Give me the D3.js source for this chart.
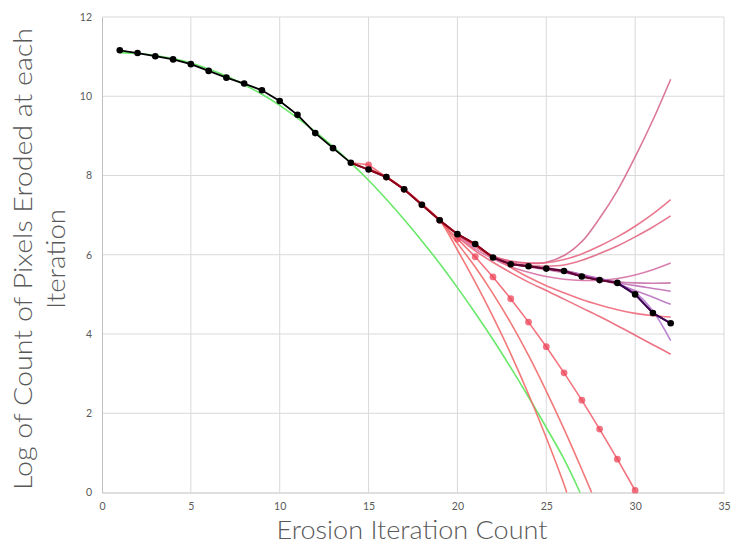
<!DOCTYPE html>
<html>
<head>
<meta charset="utf-8">
<script src="https://cdn.jsdelivr.net/npm/d3@7"></script>
<style>
  html, body { margin: 0; padding: 0; background: #fff; }
  svg { display: block; }
</style>
</head>
<body>
<svg id="chart" width="731" height="547"></svg>
<script>
// Measured log pixel counts per erosion iteration
const iterations = [1,2,3,4,5,6,7,8,9,10,11,12,13,14,15,16,17,18,19,20,21,22,23,24,25,26,27,28,29,30,31,32];
const logCounts  = [11.16,11.09,11.01,10.93,10.81,10.64,10.47,10.32,10.15,9.88,9.53,9.07,8.69,8.32,
                    8.15,7.96,7.65,7.26,6.87,6.52,6.27,5.93,5.76,5.71,5.65,5.59,5.45,5.36,5.29,5.00,4.53,4.27];

// Projected counts from iteration 14 onward
const projIter = [14,15,16,17,18,19,20,21,22,23,24,25,26,27,28,29,30];
const projVals = [8.32,8.27,7.96,7.65,7.26,6.87,6.40,5.95,5.44,4.89,4.30,3.68,3.02,2.33,1.60,0.84,0.05];

// Trend over the early iterations
const trendEarly = [[1,11.10],[2,11.08],[3,11.03],[4,10.95],[5,10.84],[6,10.69],[7,10.51],[8,10.29],
  [9,10.05],[10,9.77],[11,9.45],[12,9.11],[13,8.73],[14,8.32],[15,7.88],[16,7.40],[17,6.89],[18,6.35],
  [19,5.78],[20,5.17],[21,4.53],[22,3.86],[23,3.15],[24,2.41],[25,1.64],[26,0.84],[26.9,0]];

// Trends over the middle iterations
const trendMidA = [[15,8.18],[16,7.97],[17,7.66],[18,7.28],[19,6.87],[20,6.12],[21,5.31],[22,4.44],
  [23,3.50],[24,2.48],[25,1.38],[26,0.20],[26.15,0]];
const trendMidB = [[15,8.16],[16,7.96],[17,7.65],[18,7.27],[19,6.87],[20,6.29],[21,5.69],[22,5.02],
  [23,4.28],[24,3.46],[25,2.56],[26,1.60],[27,0.58],[27.55,0]];

// Trends over the late iterations
const trendLate1  = [[20,6.52],[21,6.22],[22,5.97],[23,5.84],[24,5.79],[25,5.81],[26,5.98],[27,6.33],[28,6.92],[29,7.62],[30,8.47],[31,9.40],[32,10.43]];
const trendLate2  = [[20,6.52],[21,6.22],[22,5.96],[23,5.83],[24,5.78],[25,5.80],[26,5.88],[27,6.02],[28,6.22],[29,6.45],[30,6.72],[31,7.03],[32,7.39]];
const trendLate3  = [[20,6.52],[21,6.21],[22,5.94],[23,5.80],[24,5.73],[25,5.71],[26,5.74],[27,5.86],[28,6.03],[29,6.22],[30,6.45],[31,6.70],[32,6.98]];
const trendLate4  = [[20,6.50],[21,6.15],[22,5.90],[23,5.70],[24,5.56],[25,5.45],[26,5.38],[27,5.35],[28,5.36],[29,5.40],[30,5.49],[31,5.62],[32,5.79]];
const trendLate5  = [[23,5.77],[24,5.70],[25,5.62],[26,5.55],[27,5.47],[28,5.38],[29,5.32],[30,5.29],[31,5.28],[32,5.29]];
const trendLate6  = [[25,5.68],[26,5.60],[27,5.50],[28,5.40],[29,5.30],[30,5.22],[31,5.15],[32,5.08]];
const trendLate7  = [[25,5.66],[26,5.60],[27,5.50],[28,5.38],[29,5.25],[30,5.10],[31,4.93],[32,4.75]];
const trendLate8  = [[26,5.55],[27,5.46],[28,5.40],[29,5.28],[30,5.05],[31,4.58],[32,3.83]];
const trendLate9  = [[20,6.52],[21,6.22],[22,5.95],[23,5.68],[24,5.43],[25,5.22],[26,5.04],[27,4.87],[28,4.73],[29,4.61],[30,4.52],[31,4.46],[32,4.43]];
const trendLate10 = [[20,6.45],[21,6.10],[22,5.81],[23,5.55],[24,5.31],[25,5.10],[26,4.88],[27,4.66],[28,4.44],[29,4.21],[30,3.97],[31,3.73],[32,3.49]];

const xTicks = [0,5,10,15,20,25,30,35];
const yTicks = [0,2,4,6,8,10,12];

const svg = d3.select("#chart");
const plot = { left: 102, right: 724, top: 17, bottom: 492.5 };

const x = d3.scaleLinear().domain([0, 35]).range([plot.left, plot.right]);
const y = d3.scaleLinear().domain([0, 12]).range([plot.bottom, plot.top]);

// gridlines
const grid = svg.append("g");
grid.selectAll("line.h").data(yTicks.filter(d => d > 0)).join("line")
  .attr("x1", plot.left).attr("x2", plot.right)
  .attr("y1", d => y(d)).attr("y2", d => y(d))
  .attr("stroke", "#d9d9d9").attr("stroke-width", 1);
grid.selectAll("line.v").data(xTicks.filter(d => d > 0)).join("line")
  .attr("x1", d => x(d)).attr("x2", d => x(d))
  .attr("y1", plot.top).attr("y2", plot.bottom)
  .attr("stroke", "#d9d9d9").attr("stroke-width", 1);

// axes
const fontTick = "Lato, 'Open Sans', 'DejaVu Sans', sans-serif";
const xAxis = svg.append("g").attr("transform", `translate(0,${plot.bottom})`)
  .call(d3.axisBottom(x).tickValues(xTicks).tickSize(0).tickPadding(10));
const yAxis = svg.append("g").attr("transform", `translate(${plot.left},0)`)
  .call(d3.axisLeft(y).tickValues(yTicks).tickSize(0).tickPadding(10));
[xAxis, yAxis].forEach(a => {
  a.select(".domain").attr("stroke", "#bfbfbf").attr("stroke-width", 1);
  a.selectAll("text").attr("fill", "#595959").style("font-family", fontTick).style("font-size", "10.5px");
});

// clip for curves
svg.append("defs").append("clipPath").attr("id", "plotClip")
  .append("rect").attr("x", plot.left).attr("y", plot.top)
  .attr("width", plot.right - plot.left).attr("height", plot.bottom - plot.top + 1);

const layer = svg.append("g").attr("clip-path", "url(#plotClip)");
const smooth = d3.line().x(d => x(d[0])).y(d => y(d[1])).curve(d3.curveCatmullRom.alpha(0.5));
const straight = d3.line().x(d => x(d[0])).y(d => y(d[1]));

function drawCurve(data, color, width, opacity) {
  layer.append("path").datum(data)
    .attr("d", smooth).attr("fill", "none")
    .attr("stroke", color).attr("stroke-width", width).attr("stroke-opacity", opacity);
}

// trend curves
drawCurve(trendEarly, "#6ae86a", 1.6, 1);
drawCurve(trendMidA, "#f26a6a", 1.6, 0.9);
drawCurve(trendMidB, "#f26a6a", 1.6, 0.9);
drawCurve(trendLate1, "#d4608a", 1.6, 0.85);
drawCurve(trendLate2, "#e6607c", 1.6, 0.85);
drawCurve(trendLate3, "#e0607e", 1.6, 0.85);
drawCurve(trendLate4, "#d2609a", 1.6, 0.8);
drawCurve(trendLate5, "#c0609e", 1.6, 0.8);
drawCurve(trendLate6, "#b85eae", 1.6, 0.8);
drawCurve(trendLate7, "#b064b8", 1.6, 0.8);
drawCurve(trendLate8, "#b070cc", 1.6, 0.85);
drawCurve(trendLate9, "#ee6272", 1.6, 0.85);
drawCurve(trendLate10, "#ea5c70", 1.6, 0.85);

// projected series with markers
const proj = projIter.map((d, i) => [d, projVals[i]]);
layer.append("path").datum(proj).attr("d", straight).attr("fill", "none")
  .attr("stroke", "#f0505e").attr("stroke-width", 1.6).attr("stroke-opacity", 0.8);
layer.selectAll("circle.proj").data(proj.slice(1)).join("circle")
  .attr("cx", d => x(d[0])).attr("cy", d => y(d[1])).attr("r", 3.4)
  .attr("fill", "#ee4458").attr("fill-opacity", 0.75);

// measured series
const measured = iterations.map((d, i) => [d, logCounts[i]]);
layer.append("path").datum(measured).attr("d", straight).attr("fill", "none")
  .attr("stroke", "#000").attr("stroke-width", 1.8);
// tinted overlays on the tail of the measured series
layer.append("path").datum(measured.filter(d => d[0] >= 14 && d[0] <= 22)).attr("d", straight)
  .attr("fill", "none").attr("stroke", "#b0001e").attr("stroke-width", 2).attr("stroke-opacity", 0.85);
layer.append("path").datum(measured.filter(d => d[0] >= 22 && d[0] <= 29)).attr("d", straight)
  .attr("fill", "none").attr("stroke", "#7a0040").attr("stroke-width", 2).attr("stroke-opacity", 0.85);
layer.append("path").datum(measured.filter(d => d[0] >= 29)).attr("d", straight)
  .attr("fill", "none").attr("stroke", "#4a0066").attr("stroke-width", 2).attr("stroke-opacity", 0.85);
layer.selectAll("circle.meas").data(measured).join("circle")
  .attr("cx", d => x(d[0])).attr("cy", d => y(d[1])).attr("r", 3.3)
  .attr("fill", "#000");

// axis titles
const fontTitle = "Lato, 'Open Sans', 'DejaVu Sans', sans-serif";
svg.append("text")
  .attr("x", 412).attr("y", 539)
  .attr("text-anchor", "middle")
  .attr("fill", "#595959").style("font-family", fontTitle).style("font-weight", 300)
  .style("font-size", "25px")
  .attr("textLength", 271).attr("lengthAdjust", "spacingAndGlyphs")
  .text("Erosion Iteration Count");

const yTitle = svg.append("text")
  .attr("transform", "translate(0,259) rotate(-90)")
  .attr("text-anchor", "middle")
  .attr("fill", "#595959").style("font-family", fontTitle).style("font-weight", 300)
  .style("font-size", "26px");
yTitle.append("tspan").attr("x", 0).attr("y", 32)
  .attr("textLength", 462).attr("lengthAdjust", "spacingAndGlyphs")
  .text("Log of Count of Pixels Eroded at each");
yTitle.append("tspan").attr("x", 0).attr("y", 65)
  .attr("textLength", 100).attr("lengthAdjust", "spacingAndGlyphs")
  .text("Iteration");
</script>
</body>
</html>
